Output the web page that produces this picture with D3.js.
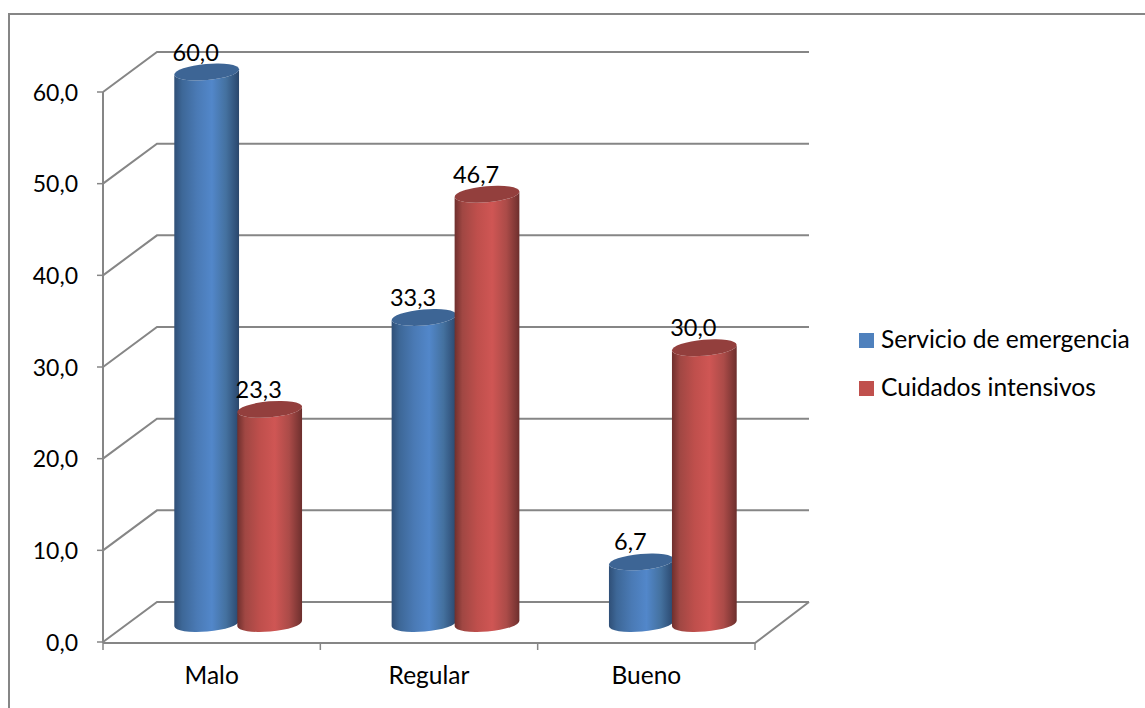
<!DOCTYPE html>
<html>
<head>
<meta charset="utf-8">
<style>
html,body{margin:0;padding:0;background:#fff;overflow:hidden}
text{font-family:Lato,"Open Sans",sans-serif;fill:#000}
</style>
<script src="https://cdn.jsdelivr.net/npm/d3@7/dist/d3.min.js"></script>
</head>
<body>
<svg id="chart" width="1145" height="708"></svg>
<script>
const categories = ["Malo", "Regular", "Bueno"];
const seriesNames = ["Servicio de emergencia", "Cuidados intensivos"];
const emergencia = [60.0, 33.3, 6.7];
const intensivos = [23.3, 46.7, 30.0];
const yTicks = [0, 10, 20, 30, 40, 50, 60];

const svg = d3.select("#chart");
const fmt = v => v.toFixed(1).replace(".", ",");

// Front plane of the 3D box; the back wall is the same plane shifted by depth.
const x = d3.scaleBand().domain(categories).range([103, 755]);
const y = d3.scaleLinear().domain([0, 60]).range([642, 92]);
const depth = {dx: 54, dy: -40};
const gridColor = "#868686";

// Outer chart border
svg.append("rect").attr("x", 9).attr("y", 14).attr("width", 1140).attr("height", 700)
  .attr("fill", "none").attr("stroke", gridColor).attr("stroke-width", 2);

// Cylinder shading
const defs = svg.append("defs");
function shade(id, stops) {
  const g = defs.append("linearGradient").attr("id", id);
  stops.forEach(([o, c]) => g.append("stop").attr("offset", o).attr("stop-color", c));
}
shade("blueBody", [[0, "#2f4f77"], [0.12, "#3d6797"], [0.35, "#4a7ab5"], [0.58, "#5287ca"], [0.8, "#44719f"], [0.96, "#2f4f77"], [1, "#2a466a"]]);
shade("redBody", [[0, "#6f2f2d"], [0.12, "#a04743"], [0.35, "#bf4f4c"], [0.58, "#cf5654"], [0.8, "#ab4b48"], [0.96, "#7a3533"], [1, "#6b2e2c"]]);

// Back wall gridlines and the slanted side-wall lines
yTicks.forEach(t => {
  const y0 = y(t);
  svg.append("path")
    .attr("d", d3.line()([[x.range()[0], y0], [x.range()[0] + depth.dx, y0 + depth.dy], [x.range()[1] + depth.dx, y0 + depth.dy]]))
    .attr("fill", "none").attr("stroke", gridColor).attr("stroke-width", 2);
});

// Floor front edge and right edge, vertical axis
svg.append("path")
  .attr("d", d3.line()([[x.range()[1] + depth.dx, y(0) + depth.dy], [x.range()[1], y(0) + 1], [x.range()[0], y(0) + 1]]))
  .attr("fill", "none").attr("stroke", gridColor).attr("stroke-width", 2);
svg.append("line").attr("x1", 103).attr("x2", 103).attr("y1", y(60)).attr("y2", y(0) + 1)
  .attr("stroke", gridColor).attr("stroke-width", 2);

// Value axis ticks and labels
yTicks.forEach(t => {
  svg.append("line").attr("x1", 97).attr("x2", 103).attr("y1", y(t)).attr("y2", y(t))
    .attr("stroke", gridColor).attr("stroke-width", 1.5);
  svg.append("text").attr("x", 78).attr("y", y(t) + 8.5).attr("text-anchor", "end")
    .attr("font-size", 23).text(fmt(t));
});

// Category axis ticks and labels
[...categories.map(c => x(c)), x.range()[1]].forEach(px => {
  svg.append("line").attr("x1", px).attr("x2", px).attr("y1", y(0) + 1).attr("y2", y(0) + 8)
    .attr("stroke", gridColor).attr("stroke-width", 1.5);
});
categories.forEach(c => {
  svg.append("text").attr("x", x(c) + x.bandwidth() / 2).attr("y", 684).attr("text-anchor", "middle")
    .attr("font-size", 24.5).text(c);
});

// Cylinders
const rx = 32.5, ry = 8, tilt = -5, rad = tilt * Math.PI / 180;
const ex = rx * Math.cos(rad), ey = rx * Math.sin(rad);
const baseY = 623.5;
const valueScale = d3.scaleLinear().domain([0, 60]).range([baseY, 72]);
const groupOffset = 26.5;

function cylinder(cx, value, body, cap) {
  const top = valueScale(value);
  svg.append("path")
    .attr("d", `M${cx - ex},${top - ey} L${cx - ex},${baseY - ey} A${rx},${ry} ${tilt} 0 0 ${cx + ex},${baseY + ey} L${cx + ex},${top + ey} A${rx},${ry} ${tilt} 0 1 ${cx - ex},${top - ey} Z`)
    .attr("fill", `url(#${body})`);
  svg.append("ellipse").attr("cx", 0).attr("cy", 0).attr("rx", rx).attr("ry", ry)
    .attr("transform", `translate(${cx},${top}) rotate(${tilt})`)
    .attr("fill", cap);
  svg.append("text").attr("x", cx - 11).attr("y", top - 11.5).attr("text-anchor", "middle")
    .attr("font-size", 23.5).text(fmt(value));
}

categories.forEach((c, i) => {
  const mid = x(c) + x.bandwidth() / 2 + groupOffset;
  cylinder(mid - 31.5, emergencia[i], "blueBody", "#3d6595");
  cylinder(mid + 31.5, intensivos[i], "redBody", "#933f3d");
});

// Legend
const legendColors = ["#4f81bd", "#c0504d"];
seriesNames.forEach((name, i) => {
  const ly = 333 + i * 48;
  svg.append("rect").attr("x", 859).attr("y", ly).attr("width", 15).attr("height", 15)
    .attr("fill", legendColors[i]);
  svg.append("text").attr("x", 881).attr("y", ly + 15).attr("font-size", 24.6).text(name);
});
</script>
</body>
</html>
